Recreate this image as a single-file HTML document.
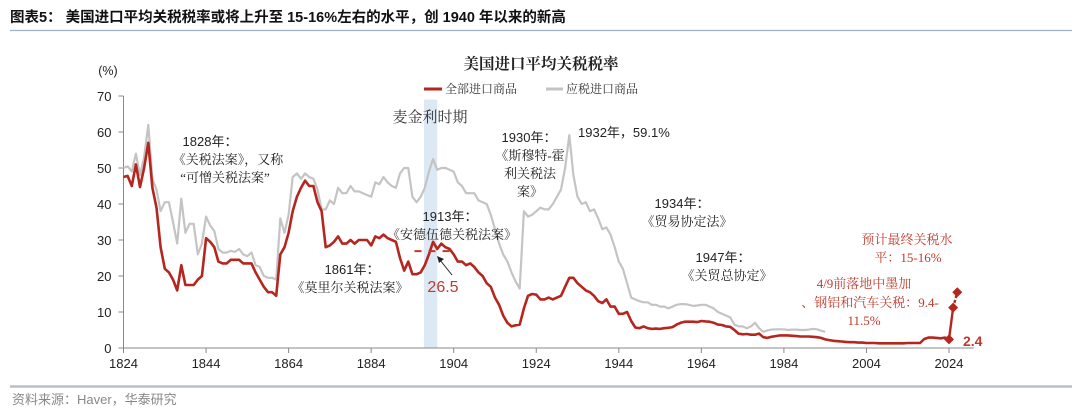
<!DOCTYPE html>
<html><head><meta charset="utf-8">
<style>
html,body{margin:0;padding:0;background:#fff;width:1080px;height:420px;overflow:hidden}
svg{display:block}
.ser{font-family:"Liberation Serif","Noto Serif CJK SC",serif}
.san{font-family:"Liberation Sans","Noto Sans CJK SC",sans-serif}
</style></head><body>
<svg id="chart" width="1080" height="420" viewBox="0 0 1080 420">
<text x="10" y="22" class="san" font-size="14.5" font-weight="bold" fill="#111">图表5：  美国进口平均关税税率或将上升至 15-16%左右的水平，创 1940 年以来的新高</text>
<line x1="10" y1="30.5" x2="1072" y2="30.5" stroke="#9fb0c4" stroke-width="1.2"/>
<text x="541" y="69" text-anchor="middle" class="ser" font-size="15.5" font-weight="bold" fill="#222">美国进口平均关税税率</text>
<text x="108" y="75" text-anchor="middle" class="san" font-size="12.5" fill="#222">(%)</text>
<g>
<g><line x1="424" y1="89" x2="442" y2="89" stroke="#b5261e" stroke-width="3"/><text x="445" y="93" class="ser" font-size="12" fill="#333">全部进口商品</text></g>
<g><line x1="546" y1="89" x2="563" y2="89" stroke="#c4c4c4" stroke-width="3"/><text x="566" y="93" class="ser" font-size="12" fill="#333">应税进口商品</text></g>
</g>
<g id="plot"></g>
<g class="ser" font-size="13" fill="#222" text-anchor="middle">
<text x="430" y="122" font-size="15" fill="#333">麦金利时期</text>
<text x="210" y="146" class="san">1828年：</text>
<text x="228" y="164">《关税法案》，又称</text>
<text x="225" y="182">“可憎关税法案”</text>
<text x="352" y="274" class="san">1861年：</text>
<text x="350" y="292">《莫里尔关税法案》</text>
<text x="450" y="221" class="san">1913年：</text>
<text x="452" y="239">《安德伍德关税法案》</text>
<text x="529" y="142" class="san">1930年：</text>
<text x="530" y="160">《斯穆特-霍</text>
<text x="530" y="178">利关税法</text>
<text x="530" y="196">案》</text>
<text x="578" y="137" text-anchor="start" class="san">1932年，59.1%</text>
<text x="682" y="208" class="san">1934年：</text>
<text x="687" y="226">《贸易协定法》</text>
<text x="723" y="262" class="san">1947年：</text>
<text x="727" y="280">《关贸总协定》</text>
<g fill="#c0392b">
<text x="907" y="244">预计最终关税水</text>
<text x="908" y="262">平：15-16%</text>
<text x="864" y="288">4/9前落地中墨加</text>
<text x="870" y="307">、钢铝和汽车关税：9.4-</text>
<text x="864" y="325">11.5%</text>
<text x="443" y="292" class="san" font-size="16">26.5</text>
<text x="963" y="346" text-anchor="start" class="san" font-size="14" font-weight="bold">2.4</text>
</g>
</g>
<line x1="10" y1="386.5" x2="1072" y2="386.5" stroke="#b7c0c8" stroke-width="2.5"/>
<text x="12" y="404" class="san" font-size="13" fill="#888">资料来源：Haver，华泰研究</text>
</svg>
<script>
const startYear = 1824;
const allImports = [47.5,47.8,45,51,44.7,50,57,44.5,39,28,22,21,19,16,23,17.5,17.5,17.5,19,20,30.5,29.5,28,24,23.5,23.5,24.5,24.5,24.5,23.5,23.5,23.5,21,19,17,15.5,15.5,14.5,26,28,32,38,42,44.5,46.5,45,45,40.5,38,28,28.5,29.5,31,29,29,30,29,30,30,30,28.5,31,30.5,31.5,30.5,30,29.5,25,21.5,24,20.5,20.5,21,23,26,29.5,27.5,29,28,27.5,26,24,24,23,23.5,22.5,21,20,18,17,14,12,9,7,6,6.3,6.5,11,14.5,15,14.8,13.5,13.5,14,13.5,14,14.5,17,19.5,19.5,18,17,16,15.5,14.5,13,12.5,13.5,11.5,11.5,9.5,9.5,10,7.5,5.7,5.5,6,5.5,5.3,5.4,5.3,5.5,5.6,5.8,6.5,7,7.3,7.3,7.3,7.2,7.5,7.4,7.3,7,6.5,6.4,6,5.9,5,4,3.8,3.9,3.7,3.7,4,3,2.8,3.1,3.3,3.5,3.5,3.5,3.4,3.3,3.2,3.2,3.2,3.1,3,2.8,2.4,2.2,2,1.9,1.8,1.7,1.6,1.6,1.5,1.5,1.4,1.4,1.4,1.3,1.3,1.3,1.3,1.3,1.3,1.3,1.4,1.4,1.4,1.4,2.5,2.9,2.9,2.8,2.7,2.9,2.4];
const dutiable = [50,50.5,49,54,48,53,62,47,44,38,40.5,40.5,35,29,41.5,32,34.5,34.5,26,29,36.5,34,32.5,27.5,26.5,26.5,27,26.7,27.5,26,25.5,26.5,23,22.5,20,19.5,19.5,19,36,32,37,47.5,48.5,47,48.5,47.5,47,44,38.5,38.5,41,40,44.5,43,43,45,43.5,43.5,43,42.5,42,46,45.5,47.5,46,45,44.5,48.5,50,50,42,40.5,42,44.5,49,52.5,49.5,50,50,49.5,49,46,45,43,43,43,41,40.5,40,37,33,29,26,24,21,18.5,16.5,38,36.5,37,38,39,38.5,38.5,40,42,44,50,59.1,48,42,40,40.5,38,38.5,36,33,33.5,31.5,28,24,22,18,14,13.5,13,12.7,12.7,12,12,11.5,11.5,11,11.5,12,12.2,12.2,12,11.7,11.8,12,12,11.5,11,10,9.5,9,8.5,6.5,6,6,5.5,6,7,5.5,4.5,4.9,5.1,5.2,5.2,5.2,5,5.1,5.1,5,5,5.1,5.3,5.2,4.8,4.5];
const projYears = [2024,2025,2026];
const projValues = [2.4,11.2,15.5];
const xTicks = [1824,1844,1864,1884,1904,1924,1944,1964,1984,2004,2024];
const yTicks = [0,10,20,30,40,50,60,70];
const mckinley = [1896.8,1900];
const refLevel = 26.9;

const NS = 'http://www.w3.org/2000/svg';
const X = y => 123.5 + (y - 1824) * 4.1275;
const Y = v => 348 - v * 3.6;
const plot = document.getElementById('plot');
function mk(tag, attrs, parent){const e=document.createElementNS(NS,tag);for(const k in attrs)e.setAttribute(k,attrs[k]);(parent||plot).appendChild(e);return e;}

const band = mk('rect',{x:X(mckinley[0]),y:Y(69),width:X(mckinley[1])-X(mckinley[0]),height:Y(0)-Y(69),fill:'#dce8f4'});



const ax = mk('g',{stroke:'#888','stroke-width':1});


mk('line',{x1:X(1824),y1:Y(0),x2:X(2030),y2:Y(0)},ax);
mk('line',{x1:X(1824),y1:Y(0),x2:X(1824),y2:Y(70)},ax);
yTicks.forEach(v=>{
  mk('line',{x1:X(1824)-5,y1:Y(v),x2:X(1824),y2:Y(v)},ax);
  const t=mk('text',{x:X(1824)-12,y:Y(v)+5,'text-anchor':'end','font-size':13,fill:'#222',stroke:'none',class:'san'});
  t.textContent=v;
  
  
});
xTicks.forEach(yr=>{
  mk('line',{x1:X(yr),y1:Y(0),x2:X(yr),y2:Y(0)+5},ax);
  const t=mk('text',{x:X(yr),y:Y(0)+20,'text-anchor':'middle','font-size':13,fill:'#222',stroke:'none',class:'san'});
  t.textContent=yr;
  
  
});

const pts = arr => arr.map((v,i)=>X(startYear+i).toFixed(1)+','+Y(v).toFixed(1)).join(' ');
const g = mk('polyline',{points:pts(dutiable),fill:'none',stroke:'#c4c4c4','stroke-width':2.2,'stroke-linejoin':'round'});


const r = mk('polyline',{points:pts(allImports),fill:'none',stroke:'#b5261e','stroke-width':2.6,'stroke-linejoin':'round'});



const pl1 = mk('line',{x1:X(projYears[0]),y1:Y(projValues[0]),x2:X(projYears[1]),y2:Y(projValues[1]),stroke:'#b5261e','stroke-width':2.4});


const pl2 = mk('line',{x1:X(projYears[1]),y1:Y(projValues[1]),x2:X(projYears[2]),y2:Y(projValues[2]),stroke:'#b5261e','stroke-width':2.4,'stroke-dasharray':'3,2'});


projYears.forEach((yr,i)=>{
  const cx=X(yr), cy=Y(projValues[i]);
  const d=mk('polygon',{points:`${cx},${cy-5} ${cx+5},${cy} ${cx},${cy+5} ${cx-5},${cy}`,fill:'#b5261e'});
  
  
});

const ref = mk('line',{x1:X(1894.5),y1:Y(refLevel),x2:X(1903),y2:Y(refLevel),stroke:'#c0392b','stroke-width':2,'stroke-dasharray':'7,7'});


const arr = mk('g',{stroke:'#222','stroke-width':1,fill:'#222'});


mk('line',{x1:452,y1:275,x2:440,y2:260},arr);
mk('polygon',{points:'437,256 444,259 439,263',stroke:'none'},arr);
</script>
</body></html>
